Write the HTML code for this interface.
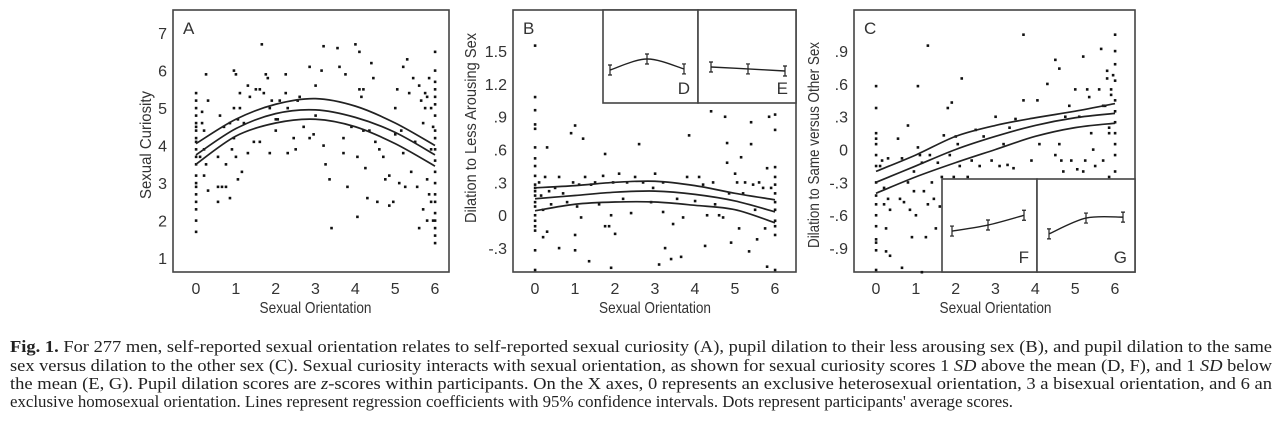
<!DOCTYPE html>
<html><head><meta charset="utf-8"><style>
html,body{margin:0;padding:0;background:#fff;}
svg{display:block;}
.ax{font-family:"Liberation Sans",Arial,sans-serif;fill:#333;}
.cap{font-family:"Liberation Serif",serif;font-size:17px;fill:#222;}
</style></head><body>
<svg id="fig" width="1280" height="423" viewBox="0 0 1280 423">
<g id="pA"></g>
<g id="pB"></g>
<g id="pC"></g>
<g>
<text class="cap" x="10" y="352" textLength="1262" lengthAdjust="spacingAndGlyphs"><tspan font-weight="bold">Fig. 1.</tspan>  For 277 men, self-reported sexual orientation relates to self-reported sexual curiosity (A), pupil dilation to their less arousing sex (B), and pupil dilation to the same</text>
<text class="cap" x="10" y="371" textLength="1262" lengthAdjust="spacingAndGlyphs">sex versus dilation to the other sex (C). Sexual curiosity interacts with sexual orientation, as shown for sexual curiosity scores 1 <tspan font-style="italic">SD</tspan> above the mean (D, F), and 1 <tspan font-style="italic">SD</tspan> below</text>
<text class="cap" x="10" y="389" textLength="1262" lengthAdjust="spacingAndGlyphs">the mean (E, G). Pupil dilation scores are <tspan font-style="italic">z</tspan>-scores within participants. On the X axes, 0 represents an exclusive heterosexual orientation, 3 a bisexual orientation, and 6 an</text>
<text class="cap" x="10" y="407" textLength="1003" lengthAdjust="spacingAndGlyphs">exclusive homosexual orientation. Lines represent regression coefficients with 95% confidence intervals. Dots represent participants' average scores.</text>
</g>
</svg>
<script>
const NS='http://www.w3.org/2000/svg';
const xTicks=[0,1,2,3,4,5,6];
const xTickLabels=['0','1','2','3','4','5','6'];
const aYTicks=[1,2,3,4,5,6,7];
const aYTickLabels=['1','2','3','4','5','6','7'];
const bYTicks=[-0.3,0,0.3,0.6,0.9,1.2,1.5];
const bYTickLabels=['-.3','0','.3','.6','.9','1.2','1.5'];
const cYTicks=[-0.9,-0.6,-0.3,0,0.3,0.6,0.9];
const cYTickLabels=['-.9','-.6','-.3','0','.3','.6','.9'];
const fitX=[0,1,2,3,4,5,6];
const aMean=[3.75,4.45,4.85,4.95,4.75,4.35,3.75];
const aUpper=[4.05,4.7,5.1,5.25,5.05,4.6,4.0];
const aLower=[3.5,4.25,4.6,4.7,4.5,4.05,3.45];
const bMean=[0.15,0.18,0.21,0.22,0.19,0.13,0.03];
const bUpper=[0.25,0.27,0.3,0.31,0.27,0.2,0.14];
const bLower=[0.04,0.1,0.12,0.12,0.09,0.05,-0.07];
const cMean=[-0.3,-0.15,0,0.12,0.22,0.29,0.33];
const cUpper=[-0.2,-0.05,0.12,0.22,0.29,0.35,0.42];
const cLower=[-0.4,-0.25,-0.12,0,0.12,0.2,0.24];
const insetX=[0,1,2];
const dVals=[0.355,0.473,0.366];
const eVals=[0.387,0.366,0.344];
const fVals=[0.44,0.505,0.61];
const gVals=[0.41,0.58,0.59];
const aPoints=[[0,1.7],[0,2],[0,2.3],[0,2.5],[0,2.7],[0,2.9],[0,3],[0,3.2],[0,3.5],[0,3.7],[0,3.9],[0,4.1],[0,4.2],[0,4.4],[0,4.5],[0,4.6],[0,4.8],[0,5],[0,5.2],[0,5.4],
[0.1,3.7],[0.15,4.6],[0.2,3.9],[0.25,5.9],[0.2,3.2],[0.25,3.5],[0.3,2.8],[0.3,5.2],[0.15,4.9],[0.2,4.4],
[0.55,2.9],[0.55,3.7],[0.55,2.5],[0.6,4.8],[0.65,2.9],[0.7,4.5],[0.75,3.5],[0.75,2.9],[0.85,2.6],[0.85,4.6],[0.9,3.9],[0.95,4.2],[0.95,5],[0.95,6],[1,5.9],[1,3.7],[1.05,3.1],[1.05,4.7],[1.1,5],[1.1,5.4],[1.15,3.3],[1.2,4.6],
[1.3,5.6],[1.3,3.8],[1.35,5.3],[1.45,4.1],[1.5,5.5],[1.6,4.1],[1.6,5.5],[1.7,5.4],[1.65,6.7],[1.75,5.9],[1.8,5.8],[1.85,3.8],[1.85,5],[1.9,5.2],[2,4.7],[2,4.4],[2.05,4.7],[2.1,5.2],
[2.25,5.9],[2.25,5.4],[2.3,3.8],[2.3,5],[2.45,4.2],[2.5,3.9],[2.55,5.2],[2.6,5.3],[2.7,4.5],[2.85,4.2],[2.85,6.1],[2.95,4.3],[3,5.6],[3,4.8],[3.15,6],[3.2,6.65],[3.2,4],[3.25,3.5],
[3.35,3.1],[3.4,1.8],[3.55,6.6],[3.6,6.1],[3.7,4.2],[3.7,3.8],[3.75,5.9],[3.8,2.9],[3.9,4.5],[4,6.7],[4.05,3.7],[4.05,2.1],[4.1,6.5],[4.1,5.5],[4.15,5.3],[4.2,5.5],[4.2,4.4],[4.25,3.4],[4.3,2.6],
[4.35,4.4],[4.4,6.2],[4.45,5.8],[4.5,4.1],[4.55,2.5],[4.6,3.9],[4.7,3.7],[4.75,3.1],[4.85,2.4],[4.85,3.2],[4.95,2.5],[5,4.3],[5,5],[5.05,5.5],[5.1,3],[5.15,4.4],[5.2,6.1],[5.2,3.8],[5.25,2.9],[5.3,6.3],
[5.35,5.4],[5.4,3.3],[5.45,5.8],[5.5,4.1],[5.55,2.9],[5.6,1.8],[5.6,5.6],[5.65,5.2],[5.7,4.6],[5.7,2.3],[5.75,5],[5.8,2],[5.85,5.8],[5.9,3.9],[5.9,5],[5.95,2],[5.95,4.5],[5.8,3.1],[5.85,2.7],[5.9,2.5],[5.75,5.4],[5.8,5.3],
[6,1.4],[6,1.6],[6,1.8],[6,2],[6,2.2],[6,2.5],[6,2.7],[6,3],[6,3.3],[6,3.6],[6,3.9],[6,4.2],[6,4.4],[6,4.8],[6,5.1],[6,5.3],[6,5.5],[6,5.7],[6,6],[6,6.5]];
const bPoints=[[0,1.55],[0,1.08],[0,0.96],[0,0.83],[0,0.79],[0,0.62],[0,0.52],[0,0.45],[0,0.36],[0,0.28],[0,0.25],[0,0.22],[0,0.18],[0,0.12],[0,0.08],[0,0],[0,-0.05],[0,-0.1],[0,-0.14],[0,-0.32],[0,-0.5],
[0.1,0.3],[0.15,0.18],[0.2,0.05],[0.2,-0.2],[0.25,0.35],[0.3,0.62],[0.3,-0.15],[0.35,0.22],[0.4,0.1],[0.5,0.25],[0.6,0.35],[0.6,-0.3],[0.7,0.2],[0.8,0.12],[0.9,0.75],[0.95,0.3],[1,0.82],[1,-0.18],[1,-0.32],[1.05,0.08],[1.1,0.28],[1.15,-0.02],[1.2,0.7],[1.25,0.35],[1.35,-0.42],
[1.4,0.28],[1.5,0.3],[1.6,0.1],[1.7,0.36],[1.75,0.56],[1.75,-0.1],[1.85,-0.1],[1.9,0],[1.9,-0.48],[1.95,0.3],[2,-0.17],[2.1,0.38],[2.2,0.15],[2.3,0.3],[2.4,0.02],[2.5,0.35],[2.6,0.65],[2.7,0.3],[2.9,0.12],[2.95,0.25],[3,0.38],[3.1,-0.45],[3.2,0.3],
[3.2,0.03],[3.25,-0.3],[3.4,-0.4],[3.45,-0.08],[3.55,0.15],[3.65,-0.38],[3.7,-0.02],[3.8,0.35],[3.85,0.73],[4,0.13],[4.1,0.35],[4.2,0.28],[4.25,-0.28],[4.3,0],[4.4,0.95],[4.45,0.3],[4.5,0.1],[4.6,0],[4.7,-0.02],[4.75,0.9],[4.8,0.66],[4.8,0.48],[4.85,0.2],[4.9,-0.25],[5,0.38],[5.05,0.3],[5.1,-0.12],[5.15,0.53],
[5.2,0.2],[5.25,0.3],[5.35,-0.33],[5.4,0.85],[5.4,0.65],[5.45,0.28],[5.5,0.05],[5.55,-0.22],[5.6,0.3],[5.7,0.25],[5.75,-0.12],[5.8,0.43],[5.8,-0.47],[5.85,0.9],[5.9,0.25],
[6,0.92],[6,0.78],[6,0.44],[6,0.35],[6,0.28],[6,0.2],[6,0.12],[6,0.05],[6,-0.05],[6,-0.1],[6,-0.18],[6,-0.5]];
const cPoints=[[0,0.58],[0,0.38],[0,0.15],[0,0.1],[0,0.05],[0,-0.05],[0,-0.15],[0,-0.3],[0,-0.42],[0,-0.5],[0,-0.6],[0,-0.7],[0,-0.82],[0,-0.85],[0,-0.92],[0,-1.1],
[0.1,-0.15],[0.15,-0.1],[0.2,-0.35],[0.2,-0.5],[0.25,-0.72],[0.25,-0.93],[0.3,-0.08],[0.3,-0.45],[0.35,-0.55],[0.35,-0.97],[0.55,0.1],[0.6,-0.45],[0.65,-1.08],[0.65,-0.08],[0.7,-0.48],[0.8,-0.3],[0.85,-0.55],[0.8,0.22],[0.9,-0.8],[0.95,-0.2],[0.95,-0.38],[1,-0.6],[1.05,0.58],[1.05,0.02],[1.1,-0.05],[1.15,-1.12],[1.15,-0.12],[1.2,-0.38],
[1.25,-0.8],[1.3,0.95],[1.3,-0.5],[1.35,-0.05],[1.4,-0.3],[1.45,-0.45],[1.5,-0.72],[1.55,-0.12],[1.6,-0.52],[1.65,-0.25],[1.7,0.13],[1.8,0.38],[1.85,-0.05],[1.9,0.43],[1.95,-0.25],[2,0.12],[2.05,0.05],[2.1,-0.15],[2.15,0.65],
[2.3,-0.25],[2.4,-0.1],[2.5,0.18],[2.6,-0.15],[2.7,0.12],[2.9,-0.1],[3,0.3],[3.1,-0.15],[3.2,0.05],[3.3,-0.14],[3.35,0.2],[3.45,-0.17],[3.5,0.28],[3.7,1.05],[3.7,0.45],[3.9,-0.1],[4.05,0.45],[4.1,0.05],[4.3,0.6],[4.5,0.82],
[4.5,-0.05],[4.6,0.74],[4.6,0.05],[4.65,-0.1],[4.7,-0.2],[4.75,0.3],[4.85,0.4],[4.9,-0.1],[5,0.55],[5.05,-0.18],[5.1,0.3],[5.2,0.85],[5.2,-0.2],[5.25,-0.1],[5.3,0.55],[5.35,0.48],[5.4,0.15],[5.45,0],[5.5,-0.15],[5.6,0.55],[5.65,0.92],[5.7,0.4],[5.7,-0.1],[5.8,0.72],[5.85,0.2],[5.9,0.55],[5.75,0.4],[5.8,0.65],[5.85,0.15],[5.9,0.5],[5.85,-0.25],[5.95,0.68],
[6,1.05],[6,0.9],[6,0.78],[6,0.63],[6,0.45],[6,0.35],[6,0.25],[6,0.15],[6,0.05],[6,-0.05],[6,-0.2],[6,-0.3]];

function el(tag,attrs,parent){const e=document.createElementNS(NS,tag);for(const k in attrs)e.setAttribute(k,attrs[k]);parent.appendChild(e);return e;}
function smooth(pts){let d='M'+pts[0][0]+','+pts[0][1];for(let i=0;i<pts.length-1;i++){const p0=pts[i-1]||pts[i],p1=pts[i],p2=pts[i+1],p3=pts[i+2]||p2;
d+=' C'+(p1[0]+(p2[0]-p0[0])/6)+','+(p1[1]+(p2[1]-p0[1])/6)+' '+(p2[0]-(p3[0]-p1[0])/6)+','+(p2[1]-(p3[1]-p1[1])/6)+' '+p2[0]+','+p2[1];}return d;}

function panel(g,cfg){
  const xs=v=>cfg.x0+(cfg.x6-cfg.x0)*v/6;
  const ys=v=>cfg.yA+(v-cfg.vA)*(cfg.yB-cfg.yA)/(cfg.vB-cfg.vA);
  const frame=el('rect',{x:cfg.L,y:10,width:cfg.R-cfg.L,height:262,fill:'#fff',stroke:'#444','stroke-width':1.6},g);
  
  
  cfg.pts.forEach(p=>{const r=el('rect',{x:xs(p[0])-1.2,y:ys(p[1])-1.2,width:2.6,height:2.6,fill:'#111'},g);
    
    });
  [cfg.up,cfg.mean,cfg.lo].forEach((arr,i)=>{const p=el('path',{d:smooth(fitX.map((x,j)=>[xs(x),ys(arr[j])])),fill:'none',stroke:'#222','stroke-width':1.7},g);
    
    });
  xTicks.forEach((t,i)=>{const tx=el('text',{x:xs(t),y:294,'text-anchor':'middle','font-size':16,class:'ax'},g);tx.textContent=xTickLabels[i];
    
    });
  cfg.yt.forEach((t,i)=>{const tx=el('text',{x:cfg.L-6,y:ys(t)+6,'text-anchor':'end','font-size':16,class:'ax'},g);tx.textContent=cfg.ytl[i];
    
    });
  const xl=el('text',{x:(cfg.x0+cfg.x6)/2,y:313,'text-anchor':'middle','font-size':16,class:'ax',textLength:112,lengthAdjust:'spacingAndGlyphs'},g);xl.textContent='Sexual Orientation';
  
  
  const yl=el('text',{x:0,y:0,'text-anchor':'middle','font-size':16,class:'ax',textLength:cfg.ylw,lengthAdjust:'spacingAndGlyphs',transform:'translate('+cfg.ylx+','+cfg.yly+') rotate(-90)'},g);yl.textContent=cfg.ylabel;
  
  
  const lt=el('text',{x:cfg.L+10,y:34,'font-size':17,class:'ax'},g);lt.textContent=cfg.letter;
  
  
}
function inset(g,box,vals,letter){
  const r=el('rect',{x:box[0],y:box[1],width:box[2]-box[0],height:box[3]-box[1],fill:'#fff',stroke:'#444','stroke-width':1.6},g);
  
  
  const ix=i=>box[4]+(box[5]-box[4])*i/2;
  const iy=v=>box[3]-v*(box[3]-box[1]);
  const pts=insetX.map((x,j)=>[ix(x),iy(vals[j])]);
  const p=el('path',{d:smooth(pts),fill:'none',stroke:'#222','stroke-width':1.4},g);
  
  
  pts.forEach(q=>{const e=el('path',{d:'M'+q[0]+','+(q[1]-5)+'V'+(q[1]+5)+'M'+(q[0]-2)+','+(q[1]-5)+'h4M'+(q[0]-2)+','+(q[1]+5)+'h4',stroke:'#222','stroke-width':1.2,fill:'none'},g);
    
    });
  const t=el('text',{x:box[2]-8,y:box[3]-9,'text-anchor':'end','font-size':17,class:'ax'},g);t.textContent=letter;
  
  
}
panel(document.getElementById('pA'),{L:173,R:449,x0:196,x6:435,yA:33,vA:7,yB:258,vB:1,pts:aPoints,mean:aMean,up:aUpper,lo:aLower,yt:aYTicks,ytl:aYTickLabels,ylabel:'Sexual Curiosity',ylx:151,yly:145,ylw:108,letter:'A'});
panel(document.getElementById('pB'),{L:513,R:796,x0:535,x6:775,yA:51,vA:1.5,yB:248,vB:-0.3,pts:bPoints,mean:bMean,up:bUpper,lo:bLower,yt:bYTicks,ytl:bYTickLabels,ylabel:'Dilation to Less Arousing Sex',ylx:476,yly:128,ylw:190,letter:'B'});
panel(document.getElementById('pC'),{L:854,R:1135,x0:876,x6:1115,yA:51,vA:0.9,yB:248,vB:-0.9,pts:cPoints,mean:cMean,up:cUpper,lo:cLower,yt:cYTicks,ytl:cYTickLabels,ylabel:'Dilation to Same versus Other Sex',ylx:819,yly:145,ylw:206,letter:'C'});
inset(document.getElementById('pB'),[603,10,698,103,610,684],dVals,'D');
inset(document.getElementById('pB'),[698,10,796,103,711,785],eVals,'E');
inset(document.getElementById('pC'),[942,179,1037,272,952,1024],fVals,'F');
inset(document.getElementById('pC'),[1037,179,1135,272,1049,1123],gVals,'G');
</script>
</body></html>
